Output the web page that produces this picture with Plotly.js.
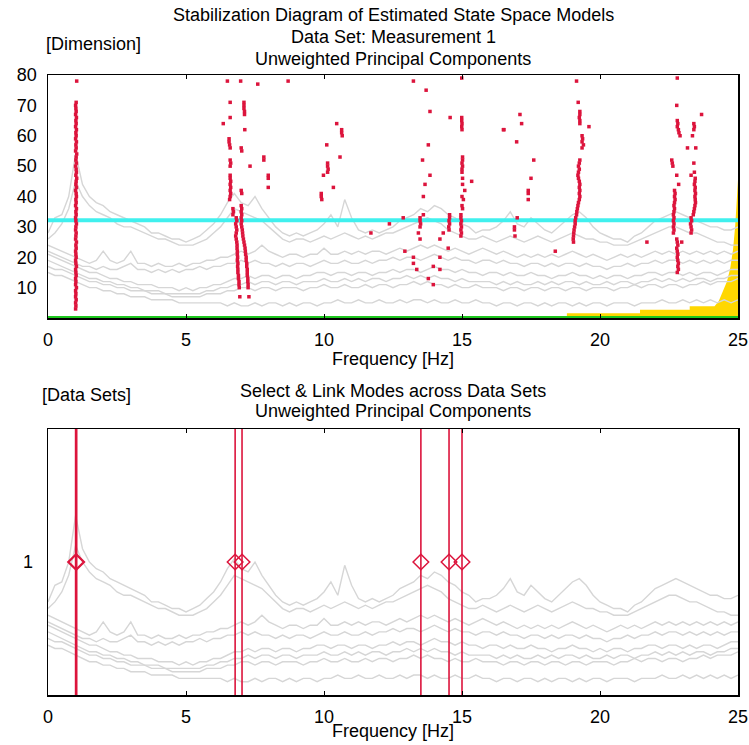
<!DOCTYPE html>
<html>
<head>
<meta charset="utf-8">
<script src="https://cdn.plot.ly/plotly-3.0.1.min.js"></script>
<style>html,body{margin:0;padding:0;background:#fff;}#chart{width:749px;height:745px;}</style>
</head>
<body>
<div id="chart"></div>
<script>
// ---------- data ----------
const freq = [0,0.25,0.5,0.75,1,1.25,1.5,1.75,2,2.25,2.5,2.75,3,3.25,3.5,3.75,4,4.25,4.5,4.75,
5,5.25,5.5,5.75,6,6.25,6.5,6.75,7,7.25,7.5,7.75,8,8.25,8.5,8.75,9,9.25,9.5,9.75,
10,10.25,10.5,10.75,11,11.25,11.5,11.75,12,12.25,12.5,12.75,13,13.25,13.5,13.75,14,14.25,14.5,14.75,
15,15.25,15.5,15.75,16,16.25,16.5,16.75,17,17.25,17.5,17.75,18,18.25,18.5,18.75,19,19.25,19.5,19.75,
20,20.25,20.5,20.75,21,21.25,21.5,21.75,22,22.25,22.5,22.75,23,23.25,23.5,23.75,24,24.25,24.5,24.75,25];

const spec1 = [28,33,34,40, 54,44,40,38, 37,35,34,33, 32,31,30,28, 28,27,26,26, 25,26,27,29, 31,34,38,41, 38,37,40,36, 33,30,28,27, 28,27,28,29,
31,34,30,39, 33,29,28,29, 28,29,30,32, 33,34,36,35, 37,36,34,33, 31,30,28,29, 29,30,32,35, 31,30,33,31, 29,28,30,32, 34,35,33,30,
28,27,26,26, 25,27,28,30, 32,33,34,35, 34,33,32,31, 30,30,29,29, 30];
const spec2 = [26,28,31,36, 45,40,37,35, 34,33,31,30, 30,29,28,27, 26,26,25,24, 24,24,25,26, 28,30,33,36, 35,34,33,32, 30,28,26,25, 26,26,25,26,
27,26,27,28, 27,26,27,26, 27,28,28,29, 30,31,32,33, 32,31,29,28, 27,26,26,27, 26,25,26,27, 26,25,26,27, 26,25,26,27, 28,27,26,26,
25,25,24,24, 24,25,26,27, 28,29,30,30, 29,28,28,27, 26,25,25,24, 24];
const spec3 = [24,23,22,21, 20,19,18,19, 22,19,18,19, 22,18,18,17, 18,17,17,18, 17,18,18,19, 19,20,20,21, 22,21,22,24, 22,21,20,21, 21,20,21,21,
23,21,21,22, 21,22,21,22, 22,21,22,23, 22,23,24,23, 24,23,22,23, 22,21,22,23, 22,21,22,21, 20,21,20,21, 20,21,20,21, 22,21,20,21,
20,19,20,21, 20,21,20,21, 22,21,22,21, 22,21,22,21, 22,21,22,21, 22];
const spec4 = [22,21,20,19, 18,17,17,16, 17,16,16,17, 18,16,16,15, 16,15,16,15, 16,16,17,16, 17,17,18,18, 19,18,19,18, 18,17,18,17, 18,18,17,18,
19,18,18,19, 18,18,19,18, 19,19,20,19, 20,20,19,20, 21,20,19,20, 19,19,18,19, 19,18,19,18, 18,17,18,18, 17,18,17,18, 18,17,18,17,
17,16,17,17, 18,17,18,18, 19,18,19,19, 18,19,18,19, 18,19,18,19, 19];
const spec5 = [21,20,19,18, 17,16,15,15, 14,13,13,12, 12,11,11,11, 10,10,10,9, 10,9,10,10, 11,11,12,13, 13,14,13,14, 14,13,14,14, 13,14,14,15,
15,14,15,15, 14,15,15,14, 15,15,16,15, 16,16,15,16, 17,16,16,15, 16,15,15,14, 15,15,14,15, 14,14,15,14, 14,13,14,14, 15,14,14,13,
14,13,14,14, 13,14,14,15, 15,14,15,15, 14,15,14,15, 15,14,15,16, 16];
const spec6 = [19,18,17,16, 15,14,13,13, 12,12,11,11, 10,10,9,9, 9,8,8,8, 8,8,8,9, 9,10,10,11, 11,12,11,12, 12,11,12,12, 11,12,12,12,
13,12,12,13, 12,13,12,13, 13,12,13,13, 14,13,14,13, 14,13,13,12, 13,12,12,12, 12,11,12,11, 12,11,11,12, 11,12,11,12, 12,11,12,11,
11,12,11,12, 12,11,12,12, 13,12,13,12, 13,12,13,13, 12,13,13,14, 14];
const spec7 = [17,16,16,15, 14,13,12,12, 11,11,10,10, 9,9,9,8, 8,8,7,7, 7,7,7,8, 8,8,9,9, 10,10,9,10, 10,9,10,10, 10,9,10,10,
11,10,10,11, 10,10,11,10, 11,11,10,11, 11,12,11,12, 11,11,10,11, 10,10,11,10, 10,10,9,10, 10,9,10,10, 9,10,10,9, 10,10,9,10,
10,10,9,10, 10,11,10,11, 11,10,11,11, 10,11,11,12, 11,12,12,12, 13];
const spec8 = [15,14,14,13, 12,11,10,10, 9,9,8,8, 7,7,7,6, 6,6,6,5, 5,5,5,5, 5,5,4,5, 4,4,5,4, 5,5,4,5, 4,5,5,4,
5,5,6,5, 5,6,5,5, 6,5,5,6, 5,6,6,5, 6,5,5,6, 5,5,6,5, 5,4,5,5, 4,5,5,4, 5,4,5,5, 4,5,4,5,
5,4,5,5, 5,4,5,5, 5,6,5,5, 6,5,6,5, 6,5,6,5, 6];

// stabilization poles: [frequency Hz, model dimension]
const poles1 = [[1.00,3],[1.01,4],[1.00,5],[1.02,6],[1.00,7],[1.01,8],[1.00,9],[1.03,10],[1.00,11],[1.01,12],[1.00,13],[1.02,14],[1.01,15],[1.00,16],[1.03,17],[1.01,18],[1.00,19],[1.02,20],[1.01,21],[1.00,22],[1.02,23],[1.01,24],[1.03,25],[1.00,26],[1.01,27],[1.02,28],[1.00,29],[1.01,30],[1.03,31],[1.01,32],[1.00,33],[1.02,34],[1.01,35],[1.03,36],[1.00,37],[1.02,38],[1.01,39],[1.03,40],[1.02,41],[1.00,42],[1.03,43],[1.01,44],[1.02,45],[1.04,46],[1.01,47],[1.03,48],[1.02,49],[1.00,50],[1.03,51],[1.01,52],[1.02,53],[1.04,54],[1.00,55],[1.02,56],[1.01,57],[1.03,58],[1.00,59],[1.02,60],[1.01,61],[1.03,62],[1.00,63],[1.02,64],[1.01,65],[1.03,66],[1.00,67],[1.02,68],[1.01,69],[1.00,70],[1.02,71],[1.04,78]];
const poles7 = [[6.5,78],[6.98,78],[7.6,77],[8.7,78],[6.6,71],[7.1,71],[7.1,70],[7.1,69],[7.12,68],[7.12,67],[6.6,66],[6.35,64],[7.13,62],[6.56,59],[6.56,58],[6.58,57],[6.6,56],[7.0,56],[7.02,55],
[7.82,53],[7.82,52],[6.6,52],[6.62,51],[6.6,50],[7.32,50],[7.98,47],[7.98,46],[6.6,47],[6.6,46],[6.62,45],[6.6,44],[6.62,43],[6.6,42],[6.62,41],[6.6,40],[6.58,39],[7.98,43],[7.0,42],[7.02,41],
[6.7,36],[6.72,35],[6.7,34],[7.0,37],[7.02,36],[7.0,35],[7.02,34],
[6.82,33],[6.84,32],[6.8,31],[6.82,30],[6.84,29],[6.82,28],[6.8,27],[6.82,26],[6.84,25],[6.85,24],[6.85,23],[6.86,22],[6.86,21],[6.87,20],[6.86,19],[6.88,18],[6.87,17],[6.88,16],[6.88,15],[6.9,14],[6.9,13],[6.92,12],[6.92,11],[6.93,10],[6.95,7],
[7.0,33],[7.02,32],[7.0,31],[7.02,30],[7.04,29],[7.05,28],[7.06,27],[7.08,26],[7.1,25],[7.12,24],[7.14,23],[7.15,22],[7.16,21],[7.18,20],[7.18,19],[7.2,18],[7.2,17],[7.22,16],[7.22,15],[7.22,14],[7.24,13],[7.24,12],[7.25,11],[7.25,10],[7.28,7]];
const poles10 = [[10.46,64],[10.64,62],[10.64,61],[10.66,60],[10.1,57],[10.58,53],[10.13,51],[10.13,50],[10.15,49],[10.13,48],[9.98,47],[10.34,43],[9.9,41],[9.9,40],[9.92,39],[11.7,28],[12.37,31]];
const poles14 = [[13.24,78],[14.99,79],[13.7,75],[13.84,68],[14.57,66],[14.99,66],[14.99,65],[15.0,64],[14.99,63],[15.0,62],[16.52,62],[13.78,57],[13.57,52],
[15.02,53],[15.02,52],[15.0,51],[15.02,50],[15.0,49],[15.0,48],[15.02,46],[13.84,47],[15.35,45],[13.66,44],[15.02,44],[15.1,42],[15.0,40],[15.05,39],[13.6,40],[15.0,37],[15.02,36],[13.6,34],
[14.96,34],[14.96,33],[14.98,32],[14.96,31],[14.98,30],[14.96,29],[14.98,28],[14.96,27],[14.55,34],[14.55,33],[14.53,32],[14.55,31],[14.52,30],[14.53,29],
[12.87,33],[13.48,33],[13.48,32],[13.5,31],[13.48,30],[13.42,28],[14.32,28],[13.48,26],[14.2,26],[14.5,23],[12.93,22],[13.24,20],[14.2,20],[13.24,18],[13.96,17],[13.36,16],[14.2,16],[13.78,13],[13.96,11]];
const poles17 = [[17.1,67],[17.16,64],[16.5,62],[16.98,58],[17.6,52],[17.5,46],[17.4,42],[17.4,41],[17.4,39],[17.0,33],[16.9,30],[16.9,29],[16.92,27],[18.38,22]];
const poles19 = [[19.15,78],[19.21,71],[19.27,68],[19.27,67],[19.25,66],[19.27,65],[19.27,64],[19.6,63],[19.35,60],[19.37,59],[19.35,58],[19.4,57],[19.35,56],
[19.27,52],[19.25,51],[19.22,50],[19.25,49],[19.22,48],[19.2,47],[19.22,46],[19.25,45],[19.27,44],[19.25,43],[19.27,42],[19.25,41],[19.27,40],[19.25,39],[19.22,38],[19.2,37],[19.18,36],[19.16,35],[19.15,34],[19.12,33],[19.1,32],[19.1,31],[19.08,30],[19.06,29],[19.05,28],[19.04,27],[19.03,26],[19.04,25],[21.7,25]];
const poles23 = [[22.8,79],[22.78,70],[23.68,67],[22.8,65],[22.82,64],[22.8,63],[22.84,62],[22.86,61],[22.9,60],[23.4,64],[23.42,63],[23.4,62],[23.35,60],[23.17,56],[23.47,56],[22.6,52],[22.62,51],[22.64,50],[23.4,51],[22.78,47],[22.85,44],[23.3,47],
[22.7,42],[22.72,41],[22.7,40],[22.72,39],[22.7,38],[22.68,37],[22.7,36],[22.68,35],[22.66,34],[22.68,33],[22.66,32],[22.68,31],[22.66,30],[22.68,29],[22.66,28],
[23.42,48],[23.45,46],[23.44,45],[23.42,44],[23.45,43],[23.44,42],[23.46,41],[23.44,40],[23.45,39],[23.46,38],[23.44,37],[23.42,36],[23.4,35],[23.38,34],
[23.3,33],[23.32,32],[23.28,31],[23.3,30],[23.32,29],[23.3,28],
[22.78,26],[22.8,25],[22.82,24],[22.78,23],[22.8,22],[22.82,21],[22.8,20],[22.82,19],[22.84,18],[22.82,17],[22.84,16],[22.8,15],[22.96,25]];

const stabilityLevel = 32.2;           // cyan line (dimension)
const baselineLevel = 0;               // green line
const yellowFreq = [18.8,21.45,21.45,23.25,23.25,24.15,24.3,24.45,24.6,24.72,24.82,24.9,24.95,25];
const yellowVal  = [1.6,1.6,2.7,2.7,3.9,3.9,5.5,8.5,12,16.5,22.5,30.5,40,45.5];

const linkedModes = [1.0,1.04,6.78,7.03,13.51,14.53,15.0];
const linkLevel = 1;

// ---------- build ----------
const RED = '#dc143c', GRAY = '#d6d6d6';
const specs = [spec1,spec2,spec3,spec4,spec5,spec6,spec7,spec8];
const allPoles = [].concat(poles1,poles7,poles10,poles14,poles17,poles19,poles23);
const traces = [];

traces.push({x:yellowFreq,y:yellowVal,xaxis:'x',yaxis:'y',type:'scatter',mode:'lines',
  fill:'tozeroy',fillcolor:'#ffd700',line:{width:0,color:'#ffd700'},hoverinfo:'skip'});
specs.forEach(s=>traces.push({x:freq,y:s,xaxis:'x',yaxis:'y',type:'scatter',mode:'lines',
  line:{color:GRAY,width:1.4},hoverinfo:'skip'}));
traces.push({x:[0,25],y:[stabilityLevel,stabilityLevel],xaxis:'x',yaxis:'y',mode:'lines',line:{color:'#40f0ee',width:4}});
traces.push({x:[0,25],y:[baselineLevel,baselineLevel],xaxis:'x',yaxis:'y',mode:'lines',line:{color:'#1ec81e',width:4}});
traces.push({x:allPoles.map(p=>p[0]),y:allPoles.map(p=>p[1]),xaxis:'x',yaxis:'y',type:'scatter',mode:'markers',
  marker:{symbol:'square',size:3.5,color:RED,line:{width:0}}});

// bottom panel
specs.forEach(s=>traces.push({x:freq,y:s,xaxis:'x2',yaxis:'y2',type:'scatter',mode:'lines',
  line:{color:GRAY,width:1.4},hoverinfo:'skip'}));
const vx=[],vy=[];
linkedModes.forEach(f=>{vx.push(f,f,null);vy.push(0,2,null);});
traces.push({x:vx,y:vy,xaxis:'x2',yaxis:'y3',mode:'lines',line:{color:RED,width:1.6}});
traces.push({x:linkedModes,y:linkedModes.map(()=>linkLevel),xaxis:'x2',yaxis:'y3',mode:'markers',
  marker:{symbol:'diamond-open',size:12,color:RED,line:{color:RED,width:1.5}}});

const FONT = {family:'"Liberation Sans", Arial, sans-serif',size:18,color:'#000'};
const xa = {range:[0,25],tickvals:[0,5,10,15,20,25],ticks:'inside',ticklen:4,tickcolor:'#000',
  showline:true,mirror:'ticks',linecolor:'#000',linewidth:1.5,showgrid:false,zeroline:false,
  tickfont:FONT,ticklabelstandoff:5,fixedrange:true};
const layout = {
  width:749,height:745,showlegend:false,paper_bgcolor:'#fff',plot_bgcolor:'#fff',
  margin:{l:48,r:11,t:75,b:50},font:FONT,
  xaxis:Object.assign({},xa,{anchor:'y',domain:[0,1]}),
  yaxis:{domain:[0.608,1],range:[0,80],tickvals:[10,20,30,40,50,60,70,80],ticks:'',
    showline:true,mirror:true,linecolor:'#000',linewidth:1.5,showgrid:false,zeroline:false,tickfont:FONT,ticklabelstandoff:6},
  xaxis2:Object.assign({},xa,{anchor:'y2',domain:[0,1]}),
  yaxis2:{domain:[0,0.429],range:[0,80],showticklabels:false,ticks:'',
    showline:true,mirror:true,linecolor:'#000',linewidth:1.5,showgrid:false,zeroline:false},
  yaxis3:{overlaying:'y2',anchor:'x2',side:'left',range:[0,2],tickvals:[1],ticktext:['1'],ticks:'',
    showline:false,showgrid:false,zeroline:false,tickfont:FONT,ticklabelstandoff:14},
  annotations:[
    {text:'Stabilization Diagram of Estimated State Space Models',xref:'paper',yref:'paper',x:0.5,y:1.097,showarrow:false,font:FONT,yanchor:'middle'},
    {text:'Data Set: Measurement 1',xref:'paper',yref:'paper',x:0.5,y:1.061,showarrow:false,font:FONT,yanchor:'middle'},
    {text:'Unweighted Principal Components',xref:'paper',yref:'paper',x:0.5,y:1.026,showarrow:false,font:FONT,yanchor:'middle'},
    {text:'[Dimension]',xref:'paper',yref:'paper',x:-0.006,y:1.05,xanchor:'left',showarrow:false,font:FONT,yanchor:'middle'},
    {text:'Frequency [Hz]',xref:'paper',yref:'paper',x:0.5,y:0.542,showarrow:false,font:FONT,yanchor:'middle'},
    {text:'[Data Sets]',xref:'paper',yref:'paper',x:-0.012,y:0.484,xanchor:'left',showarrow:false,font:FONT,yanchor:'middle'},
    {text:'Select &amp; Link Modes across Data Sets',xref:'paper',yref:'paper',x:0.5,y:0.49,showarrow:false,font:FONT,yanchor:'middle'},
    {text:'Unweighted Principal Components',xref:'paper',yref:'paper',x:0.5,y:0.458,showarrow:false,font:FONT,yanchor:'middle'},
    {text:'Frequency [Hz]',xref:'paper',yref:'paper',x:0.5,y:-0.058,showarrow:false,font:FONT,yanchor:'middle'}
  ]
};
Plotly.newPlot('chart',traces,layout,{displayModeBar:false,staticPlot:true});
</script>
</body>
</html>
